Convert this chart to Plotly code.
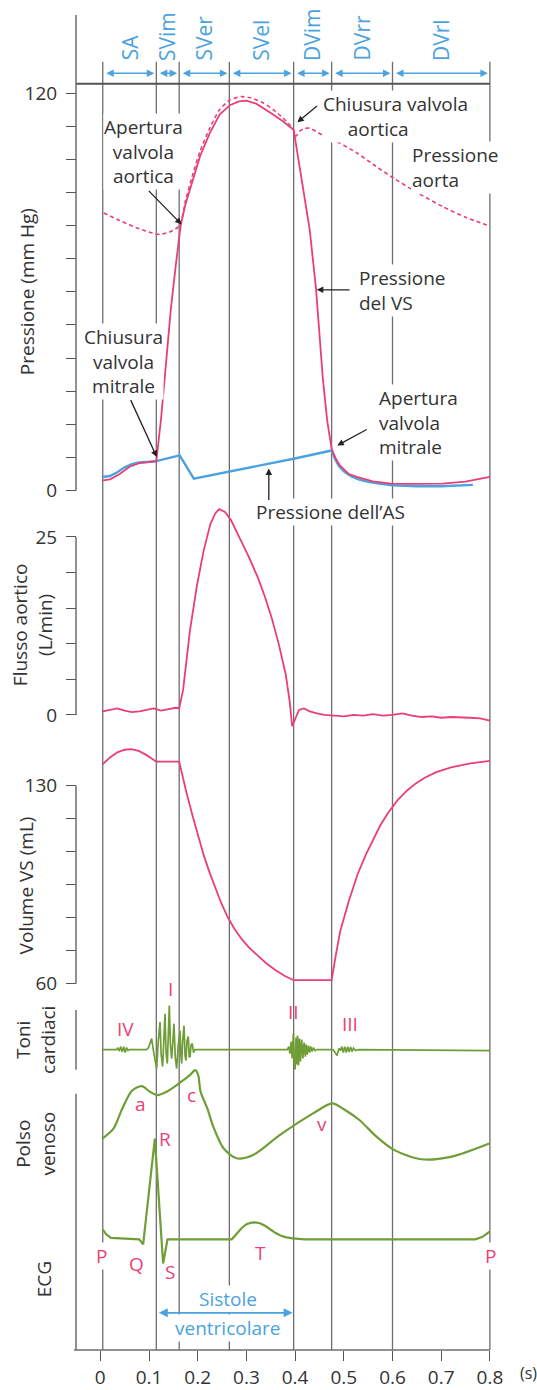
import plotly.graph_objects as go

W, H = 537, 1390
PLOT_B = 1354          # bottom of plot area (px)
PX0, PXS = 100.3, 487.0  # pixel of t=0 and pixels per second

# ---------------- data ----------------
phase_times = [0.005, 0.115, 0.162, 0.265, 0.397, 0.475, 0.6, 0.8]
phase_labels = ["SA", "SVim", "SVer", "SVel", "DVim", "DVrr", "DVrl"]
x_ticks = [0, 0.1, 0.2, 0.3, 0.4, 0.5, 0.6, 0.7, 0.8]
x_ticktext = ["0", "0.1", "0.2", "0.3", "0.4", "0.5", "0.6", "0.7", "0.8"]

# left ventricular pressure (mm Hg)
t_lv = [0.005, 0.02, 0.04, 0.06, 0.08, 0.1, 0.115, 0.125, 0.135, 0.145, 0.155, 0.165, 0.175,
        0.19, 0.205, 0.225, 0.245, 0.267, 0.285, 0.3, 0.32, 0.351, 0.375, 0.397, 0.408, 0.42,
        0.43, 0.443, 0.45, 0.457, 0.466, 0.475, 0.484, 0.492, 0.51, 0.527, 0.56, 0.597, 0.65,
        0.702, 0.75, 0.8]
p_lv = [3.1, 3.4, 5.0, 7.2, 8.3, 8.5, 8.8, 22, 39, 55, 68, 80, 86.5,
        94, 101, 108, 113.5, 116.4, 117.5, 117.7, 116.8, 113.9, 111.5, 108.9, 98.9, 88,
        78.8, 60.8, 48, 33.7, 21, 12.6, 9.5, 7.6, 5.0, 4.1, 2.8, 2.1, 2.0,
        2.1, 2.7, 4.1]

# aortic pressure (mm Hg)
t_ao = [0.007, 0.04, 0.08, 0.105, 0.123, 0.145, 0.163, 0.175, 0.19, 0.205, 0.225, 0.245,
        0.267, 0.29, 0.31, 0.335, 0.355, 0.375, 0.39, 0.397, 0.402, 0.41, 0.42, 0.43, 0.455,
        0.49, 0.527, 0.56, 0.597, 0.65, 0.702, 0.75, 0.8]
p_ao = [83.8, 81.5, 79, 77.8, 77.3, 78.2, 80, 87.5, 95.5, 102.5, 109.5, 115,
        118, 118.9, 118.5, 117, 115, 112.5, 110.2, 108.8, 107, 108.6, 109.3, 109.4, 107.4,
        105, 101.9, 98.5, 94.8, 90, 85.8, 82.5, 79.8]

# left atrial pressure (mm Hg)
t_la = [0.005, 0.02, 0.035, 0.05, 0.065, 0.08, 0.1, 0.115, 0.163, 0.192, 0.397, 0.475, 0.482,
        0.49, 0.5, 0.515, 0.53, 0.55, 0.575, 0.6, 0.65, 0.7, 0.765]
p_la = [4.1, 4.4, 5.5, 7.0, 8.0, 8.5, 8.7, 8.9, 10.6, 3.6, 9.6, 12.1, 9.5,
        7.4, 5.8, 4.3, 3.4, 2.6, 2.0, 1.6, 1.3, 1.3, 1.7]

# aortic flow (L/min)
t_fl = [0.005, 0.02, 0.035, 0.05, 0.065, 0.08, 0.095, 0.11, 0.125, 0.14, 0.155, 0.162, 0.17,
        0.184, 0.198, 0.212, 0.226, 0.236, 0.244, 0.256, 0.268, 0.285, 0.305, 0.324, 0.338,
        0.352, 0.367, 0.381, 0.389, 0.394, 0.4, 0.408, 0.418, 0.43, 0.445, 0.46, 0.48, 0.5,
        0.52, 0.54, 0.56, 0.58, 0.6, 0.62, 0.64, 0.66, 0.68, 0.7, 0.72, 0.74, 0.76, 0.78, 0.8]
q_fl = [0.5, 0.7, 0.9, 0.6, 0.4, 0.5, 0.7, 0.9, 0.6, 0.8, 1.0, 0.9, 3.5,
        11.8, 18, 23, 26.8, 28.3, 28.9, 28.5, 27.4, 25, 22.2, 19.2, 16.6,
        13.6, 9.8, 5.6, 1.8, -1.6, -0.6, 0.7, 0.9, 0.5, 0.2, 0.0, -0.1, -0.2,
        0.0, -0.1, 0.1, -0.1, 0.0, 0.2, -0.1, -0.3, -0.2, -0.4, -0.3, -0.3, -0.4, -0.5, -0.8]

# left ventricular volume (mL)
t_vol = [0.005, 0.02, 0.035, 0.05, 0.064, 0.08, 0.095, 0.108, 0.115, 0.162, 0.168, 0.177,
         0.19, 0.2, 0.212, 0.225, 0.235, 0.248, 0.261, 0.275, 0.29, 0.305, 0.324, 0.34, 0.36,
         0.38, 0.397, 0.475, 0.483, 0.4925, 0.51, 0.528, 0.545, 0.56, 0.575, 0.591, 0.61,
         0.63, 0.648, 0.666, 0.69, 0.72, 0.76, 0.8]
v_vol = [137.6, 140, 141.8, 142.7, 142.9, 142.2, 140.8, 139.2, 138.5, 138.5, 134, 127.5,
         119, 112.8, 105.6, 99, 94.2, 88.6, 83.7, 79.5, 75.8, 72.8, 69.8, 67.3, 64.7,
         62.6, 61.2, 61.2, 69.5, 78.4, 89, 98.5, 105.5, 111, 116, 120.4, 124.8,
         128.3, 130.8, 132.8, 134.8, 136.5, 137.9, 138.8]

# heart sounds (arbitrary amplitude): IV, I, II, III
t_s4 = [0.033, 0.036, 0.039, 0.042, 0.045, 0.048, 0.051, 0.054, 0.057, 0.060]
a_s4 = [0, 1.5, -1.5, 3, -2.5, 3, -3, 2, -1, 0]
t_s1 = [0.095, 0.099, 0.1055, 0.110, 0.1158, 0.119, 0.1226, 0.125, 0.128, 0.1305, 0.1328,
        0.135, 0.1376, 0.1395, 0.1417, 0.144, 0.1466, 0.149, 0.1513, 0.154, 0.1568, 0.160,
        0.1636, 0.1655, 0.1671, 0.169, 0.1719, 0.174, 0.176, 0.178, 0.1807, 0.1825, 0.1842,
        0.1865, 0.1889, 0.1915, 0.1945]
a_s1 = [0, 2, 11, -4, -19, 8, 27.7, -5, -17, 10, 36,
        -3, -14, 12, 44.3, 5, -9, 8, 26, -8, -19, 4,
        19, -6, -14, 8, 24, -6, -11, 9, 13, -7, -7,
        5, 6, -3, 0]
t_s2 = [0.384, 0.387, 0.3895, 0.392, 0.394, 0.3965, 0.398, 0.400, 0.402, 0.4035, 0.405, 0.407,
        0.409, 0.411, 0.4135, 0.416, 0.4185, 0.421, 0.4226, 0.425, 0.4274, 0.430, 0.432, 0.435,
        0.4376, 0.441, 0.445]
a_s2 = [0, 3, -4, 8, -9, 16, -12, -20, 12, -15, 14, -16,
        11, -12, 10, -9, 7, -7, 5, -5, 4, -3, 3, -2,
        2, -1, 0]
t_s3 = [0.478, 0.482, 0.486, 0.49, 0.493, 0.496, 0.499, 0.502, 0.505, 0.508, 0.511, 0.514,
        0.517, 0.52, 0.524, 0.53]
a_s3 = [0, -3, -6, 1, -1, 3, -3, 3, -3, 3, -2.5, 2.5, -2, 1.5, -1, 0]
t_snd_ends = [0.005, 0.8]
a_snd_ends = [0, -1]

# jugular venous pulse (arbitrary units)
t_jvp = [0.005, 0.027, 0.045, 0.065, 0.085, 0.102, 0.117, 0.136, 0.157, 0.17, 0.184, 0.195,
         0.201, 0.206, 0.22, 0.232, 0.253, 0.28, 0.314, 0.369, 0.437, 0.476, 0.5, 0.532,
         0.567, 0.603, 0.659, 0.722, 0.8]
v_jvp = [28.3, 38, 58, 76, 80.7, 75, 71.7, 75, 81.7, 86.5, 91.7, 96.7,
         91.7, 75, 58, 40, 18.3, 8.3, 11.7, 31.7, 53.3, 63.3, 57.5, 46.7,
         30, 16.7, 7.3, 10, 23.3]

# ECG (mV)
t_ecg = [0.005, 0.012, 0.022, 0.06, 0.08, 0.088, 0.112, 0.129, 0.138, 0.27, 0.28, 0.29, 0.3,
         0.31, 0.318, 0.328, 0.34, 0.35, 0.36, 0.37, 0.38, 0.395, 0.42, 0.77, 0.785, 0.8]
v_ecg = [0.10, 0.05, 0.015, 0.01, 0.0, -0.05, 1.0, -0.24, 0.0, 0.0, 0.06, 0.11, 0.15,
         0.165, 0.168, 0.16, 0.13, 0.095, 0.062, 0.038, 0.022, 0.01, 0.0, 0.0, 0.025, 0.08]

# axis ticks
p_ticks = [0, 10, 20, 30, 40, 50, 60, 70, 80, 90, 100, 110, 120]
p_ticktext = ["0", "", "", "", "", "", "", "", "", "", "", "", "120"]
f_ticks = [0, 5, 10, 15, 20, 25]
f_ticktext = ["0", "", "", "", "", "25"]
v_ticks = [60, 71.667, 83.333, 95, 106.667, 118.333, 130]
v_ticktext = ["60", "", "", "", "", "", "130"]

# ---------------- styles ----------------
PINK = "#ea3f74"
BLUE = "#4aa3e0"
GREEN = "#6f9e36"
TXT = "#333333"
GRID = "#6e6e6e"
FONT = "Open Sans"
FS = 19


def xp(px):
    return px / W


def yp(py):
    return 1 - py / PLOT_B


def yrange(v1, p1, v2, p2):
    k = (v1 - v2) / (p2 - p1)
    return [v1 - (PLOT_B - p1) * k, v1 + p1 * k]


def tpx(t):
    return PX0 + t * PXS


fig = go.Figure()

fig.add_trace(go.Scatter(x=t_ao, y=p_ao, mode="lines", yaxis="y",
                         line=dict(color=PINK, width=1.6, dash="4px,3px", shape="spline", smoothing=0.6)))
fig.add_trace(go.Scatter(x=t_la, y=p_la, mode="lines", yaxis="y",
                         line=dict(color=BLUE, width=2.4)))
fig.add_trace(go.Scatter(x=t_lv, y=p_lv, mode="lines", yaxis="y",
                         line=dict(color=PINK, width=1.8)))
fig.add_trace(go.Scatter(x=t_fl, y=q_fl, mode="lines", yaxis="y2",
                         line=dict(color=PINK, width=1.8)))
fig.add_trace(go.Scatter(x=t_vol, y=v_vol, mode="lines", yaxis="y3",
                         line=dict(color=PINK, width=1.8)))
t_snd = [t_snd_ends[0]] + t_s4 + t_s1 + t_s2 + t_s3 + [t_snd_ends[1]]
a_snd = [a_snd_ends[0]] + a_s4 + a_s1 + a_s2 + a_s3 + [a_snd_ends[1]]
fig.add_trace(go.Scatter(x=t_snd, y=a_snd, mode="lines", yaxis="y4",
                         line=dict(color=GREEN, width=1.7)))
fig.add_trace(go.Scatter(x=t_jvp, y=v_jvp, mode="lines", yaxis="y5",
                         line=dict(color=GREEN, width=2.2, shape="spline", smoothing=0.8)))
fig.add_trace(go.Scatter(x=t_ecg, y=v_ecg, mode="lines", yaxis="y6",
                         line=dict(color=GREEN, width=2.2)))

shapes = []
# vertical phase lines
for t in phase_times:
    shapes.append(dict(type="line", xref="x", yref="paper", x0=t, x1=t, y0=yp(PLOT_B), y1=yp(62),
                       line=dict(color=GRID, width=1.3), layer="below"))
# top horizontal line
shapes.append(dict(type="line", xref="paper", yref="paper", x0=xp(76), x1=xp(tpx(0.8)),
                   y0=yp(84), y1=yp(84), line=dict(color="#555", width=2), layer="below"))
# left axis segments
for a, b in [(15, 492), (538.5, 717), (788, 986.5), (1013, 1073), (1097, PLOT_B)]:
    shapes.append(dict(type="line", xref="paper", yref="paper", x0=xp(76), x1=xp(76),
                       y0=yp(a), y1=yp(b), line=dict(color=GRID, width=1.5), layer="below"))
# bottom axis line
shapes.append(dict(type="line", xref="paper", yref="paper", x0=xp(74), x1=xp(tpx(0.8)),
                   y0=yp(PLOT_B), y1=yp(PLOT_B), line=dict(color=GRID, width=1.6), layer="below"))

ann = []


def text(px, py, s, color=TXT, size=FS, xanchor="center", align="center", bg=None, angle=0,
         yanchor="middle"):
    d = dict(xref="paper", yref="paper", x=xp(px), y=yp(py), text=s, showarrow=False,
             font=dict(family=FONT, size=size, color=color), xanchor=xanchor, yanchor=yanchor,
             align=align, textangle=angle, borderpad=0)
    if bg:
        d["bgcolor"] = bg
    ann.append(d)


def arrow(hx, hy, tx, ty, color="#222", side="end", width=1.3, head=2):
    ann.append(dict(xref="paper", yref="paper", x=xp(hx), y=yp(hy), ax=tx - hx, ay=ty - hy,
                    axref="pixel", ayref="pixel", text="", showarrow=True, arrowhead=head,
                    startarrowhead=head, arrowside=side, arrowsize=1, startarrowsize=1,
                    arrowwidth=width, arrowcolor=color))


# header phases
for i, lab in enumerate(phase_labels):
    a, b = tpx(phase_times[i]), tpx(phase_times[i + 1])
    arrow(b - 2, 73.5, a + 2, 73.5, color=BLUE, side="end+start", width=1.5, head=2)
    text((a + b) / 2, 62, lab, color=BLUE, size=21, angle=-90, yanchor="bottom")

# pressure annotations
NB = "\u00a0"
text(322, 117, "Chiusura valvola<br>" + NB * 5 + "aortica", xanchor="left", align="left",
     bg="white")
arrow(297.3, 122.7, 318.5, 105)
text(143.8, 151.7, "Apertura<br>valvola<br>aortica", bg="white")
arrow(181.5, 225, 147.3, 190)
text(411, 168.3, "Pressione<br>aorta", xanchor="left", align="left", bg="white")
text(358, 291, "Pressione<br>del VS", xanchor="left", align="left", bg="white")
arrow(316.8, 290.7, 351, 290.7)
text(123.8, 362.7, "Chiusura<br>valvola<br>mitrale", bg="white")
arrow(156.8, 458.3, 130, 400)
text(378, 423.3, "Apertura<br>valvola<br>mitrale", xanchor="left", align="left", bg="white")
arrow(337.3, 446.7, 368.2, 430)
text(330.5, 514, "Pressione dell\u2019AS", bg="white")
arrow(268.8, 470, 268.8, 503)

# axis titles
text(27, 293, "Pressione (mm Hg)", angle=-90)
text(32, 627, "Flusso aortico<br>(L/min)", angle=-90)
text(26, 888, "Volume VS (mL)", angle=-90)
text(36, 1043, "Toni<br>cardiaci", angle=-90)
text(36, 1147, "Polso<br>venoso", angle=-90)
text(44, 1283, "ECG", angle=-90)

# pink labels
for px, py, s in [(125, 1032, "IV"), (170, 992, "I"), (293, 1015, "II"), (350, 1027, "III"),
                  (140, 1107, "a"), (191.7, 1098, "c"), (322, 1127, "v"),
                  (165, 1142, "R"), (136.7, 1268, "Q"), (170, 1276, "S"), (260, 1257, "T")]:
    text(px, py, s, color=PINK, size=FS)
text(101, 1260, "P", color=PINK, size=FS, bg="white")
text(490, 1260, "P", color=PINK, size=FS, bg="white")

# systole arrow
text(227.7, 1303, "Sistole", color=BLUE, size=FS, bg="white")
text(227.7, 1332, "ventricolare", color=BLUE, size=FS, bg="white")
arrow(tpx(0.397) - 1, 1316.7, tpx(0.115) + 1, 1316.7, color=BLUE, side="end+start", width=1.8, head=2)

# units label
text(528, 1377, "(s)", size=16)

TICKFONT = dict(family=FONT, size=19, color=TXT)
axis_common = dict(showgrid=False, zeroline=False, showline=False, anchor="free",
                   position=xp(76), overlaying="y", ticks="outside", ticklen=10,
                   tickcolor="#555", tickwidth=1.3, ticklabelstandoff=5,
                   tickfont=TICKFONT, domain=[0, 1])

fig.update_layout(
    width=W, height=H,
    margin=dict(l=0, r=0, t=0, b=H - PLOT_B),
    paper_bgcolor="white", plot_bgcolor="white",
    showlegend=False,
    xaxis=dict(range=[(0 - PX0) / PXS, (W - PX0) / PXS], showgrid=False, zeroline=False,
               showline=False, tickmode="array", tickvals=x_ticks, ticktext=x_ticktext,
               ticks="outside", ticklen=10, tickcolor="#555", tickwidth=1.3,
               tickfont=TICKFONT, anchor="y"),
    yaxis=dict(range=yrange(120, 93.3, 0, 492), tickmode="array", tickvals=p_ticks,
               ticktext=p_ticktext, showgrid=False, zeroline=False, showline=False,
               anchor="free", position=xp(76), ticks="outside", ticklen=10, tickcolor="#555",
               tickwidth=1.3, ticklabelstandoff=5, tickfont=TICKFONT, domain=[0, 1]),
    yaxis2=dict(range=yrange(25, 538.5, 0, 717), tickmode="array", tickvals=f_ticks,
                ticktext=f_ticktext, **axis_common),
    yaxis3=dict(range=yrange(130, 788, 60, 986.5), tickmode="array", tickvals=v_ticks,
                ticktext=v_ticktext, **axis_common),
    yaxis4=dict(range=yrange(0, 1052.7, 10, 1042.7), visible=False, overlaying="y",
                anchor="free", position=xp(76)),
    yaxis5=dict(range=yrange(0, 1170, 100, 1070), visible=False, overlaying="y",
                anchor="free", position=xp(76)),
    yaxis6=dict(range=yrange(0, 1243, 1, 1142), visible=False, overlaying="y",
                anchor="free", position=xp(76)),
    shapes=shapes,
    annotations=ann,
)

fig.write_html("out.html")
